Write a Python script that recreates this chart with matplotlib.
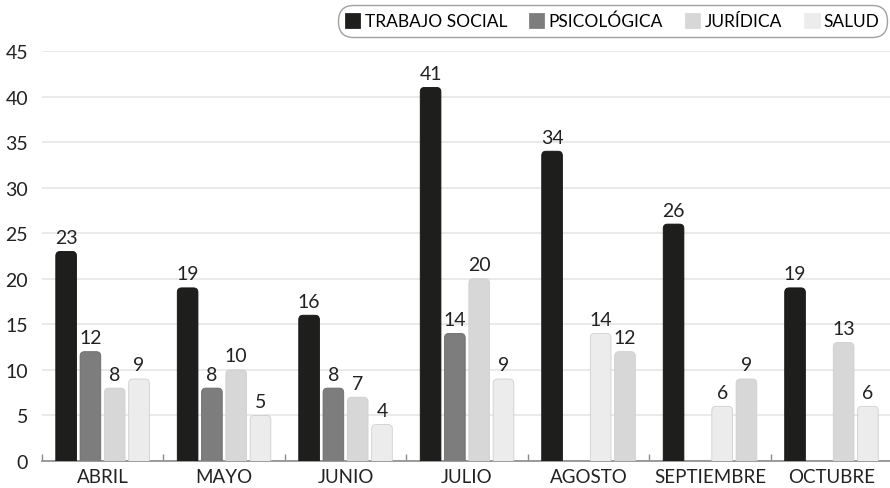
import numpy as np
import matplotlib.pyplot as plt
from matplotlib.patches import FancyBboxPatch, Patch

plt.rcParams['font.family'] = ['Lato', 'DejaVu Sans']

months = ["ABRIL", "MAYO", "JUNIO", "JULIO", "AGOSTO", "SEPTIEMBRE", "OCTUBRE"]
series_names = ["TRABAJO SOCIAL", "PSICOLÓGICA", "JURÍDICA", "SALUD"]

# None = no bar that month
trabajo_social = [23, 19, 16, 41, 34, 26, 19]
psicologica = [12, 8, 8, 14, None, None, None]
juridica = [8, 10, 7, 20, 14, 6, 13]
salud = [9, 5, 4, 9, 12, 9, 6]

c_black = "#1e1e1c"
c_grey = "#7d7d7d"
c_light = "#d7d7d7"
c_pale = "#ececec"
base_colors = [c_black, c_grey, c_light, c_pale]
# per-bar colours for the two light series (agosto/septiembre come swapped)
juridica_colors = [c_light, c_light, c_light, c_light, c_pale, c_pale, c_light]
salud_colors = [c_pale, c_pale, c_pale, c_pale, c_light, c_light, c_pale]

fig = plt.figure(figsize=(8.9, 4.89), dpi=100)
ax = fig.add_axes([0.047, 0.0552, 0.9555, 0.8385])

x = np.arange(len(months))
offsets = [-0.3, -0.1, 0.1, 0.3]
bw = 0.17
all_series = [trabajo_social, psicologica, juridica, salud]
all_colors = [[c_black] * 7, [c_grey] * 7, juridica_colors, salud_colors]

ax.set_xlim(-0.5, 6.5)
ax.set_ylim(0, 45)

for vals, cols, off in zip(all_series, all_colors, offsets):
    for i, v in enumerate(vals):
        if v is None:
            continue
        rect = ax.bar(x[i] + off, v, width=bw, color=cols[i])[0]
        rect.set_visible(False)
        edge = "#111111" if cols[i] == c_black else ("#6a6a6a" if cols[i] == c_grey else "#cfcfcf")
        # rounded top corners; the bottom ones sit below the axis and get clipped
        rounded = FancyBboxPatch((rect.get_x(), -1), rect.get_width(), v + 1,
                                 boxstyle="round,pad=0,rounding_size=0.036",
                                 mutation_aspect=13.3, facecolor=cols[i],
                                 edgecolor=edge, linewidth=0.6, zorder=3)
        ax.add_patch(rounded)
        ax.annotate(str(v), (x[i] + off, v), xytext=(0, 4), textcoords="offset points",
                    ha="center", va="bottom", fontsize=14, color="#222222",
                    annotation_clip=False)

ax.set_yticks(np.arange(0, 46, 5))
ax.yaxis.grid(True, color="#e6e6e6", linewidth=1.2)
ax.set_axisbelow(True)
ax.tick_params(axis="y", length=0, labelsize=14, labelcolor="#222222", pad=10)

ax.set_xticks(x)
ax.set_xticklabels(months)
ax.set_xticks(np.arange(-0.5, 7, 1), minor=True)
ax.tick_params(axis="x", which="major", length=0, labelsize=13.5, labelcolor="#222222", pad=5)
ax.tick_params(axis="x", which="minor", direction="in", length=5, color="#8a8a8a", width=1)

for s in ["top", "right", "left"]:
    ax.spines[s].set_visible(False)
ax.spines["bottom"].set_color("#8a8a8a")
ax.spines["bottom"].set_linewidth(1.2)

handles = [Patch(facecolor=c, edgecolor=c, linewidth=2, joinstyle="round") for c in base_colors]
leg = fig.legend(handles, series_names, loc="upper right", bbox_to_anchor=(1.001, 0.995),
                 ncol=4, fontsize=12.5, frameon=True, fancybox=True,
                 handlelength=0.8, handleheight=0.8, handletextpad=0.3,
                 columnspacing=1.3, borderpad=0.45, borderaxespad=0.2)
frame = leg.get_frame()
frame.set_edgecolor("#8a8a8a")
frame.set_linewidth(1.0)
frame.set_boxstyle("round,pad=0,rounding_size=0.9")

fig.savefig("out.png", dpi=100)
